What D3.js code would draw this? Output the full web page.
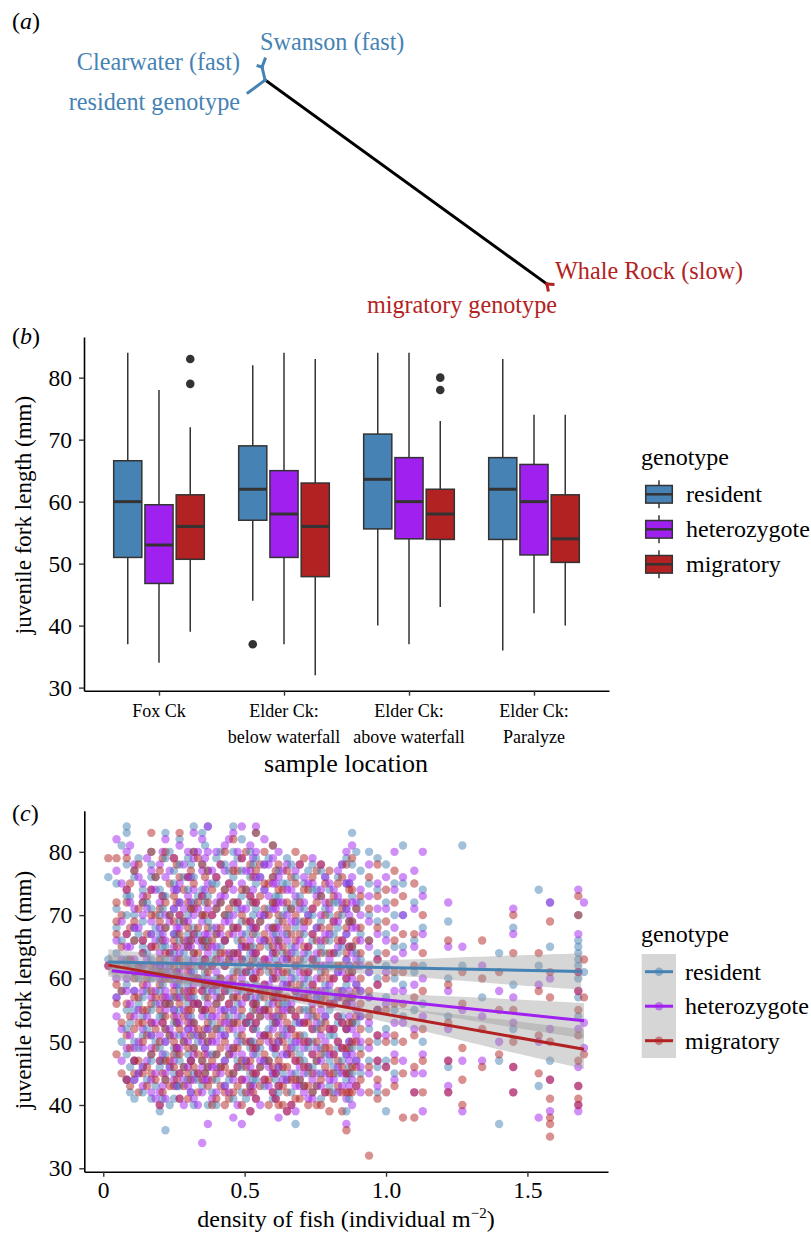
<!DOCTYPE html>
<html>
<head>
<meta charset="utf-8">
<script src="https://cdn.jsdelivr.net/npm/d3@7"></script>
<style>
  body { margin: 0; background: #fff; }
  svg { font-family: "Liberation Serif", "Times New Roman", serif; }
</style>
</head>
<body>
<svg id="fig" width="811" height="1238"></svg>
<script>
// ---------- data ----------
const genotypes = ["resident", "heterozygote", "migratory"];
const genoColors = ["#4682B4", "#A020F0", "#B22222"];

// panel (a): tree in arbitrary branch-length units
const treeNodes = {
  root: [5.6, 9.1], resTip: [0, 14.6], fast: [4.6, 3.5], clear: [3.3, 3.0],
  swan: [5.6, 0], slow: [98.0, 97.4], whale: [100, 97.6], migTip: [98.4, 100]
};
const blueEdges = [["root", "resTip"], ["root", "fast"], ["fast", "clear"], ["fast", "swan"]];
const blackEdges = [["root", "slow"]];
const redEdges = [["slow", "whale"], ["slow", "migTip"]];

// panel (b): [lower whisker, q1, median, q3, upper whisker]
const locations = [["Fox Ck"], ["Elder Ck:", "below waterfall"], ["Elder Ck:", "above waterfall"], ["Elder Ck:", "Paralyze"]];
const residentBox = [[37, 51, 60, 66.6, 84], [44, 57, 62, 69, 82], [40, 55.6, 63.6, 70.9, 84], [36, 53.9, 62, 67.1, 83]];
const heteroBox = [[34, 46.8, 53, 59.5, 78], [37, 51, 58, 65, 84], [37, 54, 60, 67.1, 84], [42, 51.4, 60, 66, 74]];
const migratoryBox = [[39, 50.7, 56, 61.1, 72], [32, 47.9, 56, 63, 83], [43, 53.9, 58, 62, 73], [40, 50.2, 54, 61.1, 74]];
const outliers = [[0, 2, 83], [0, 2, 79], [1, 0, 37], [2, 2, 80], [2, 2, 78]]; // [location, genotype, value]
const lengthTicks = [30, 40, 50, 60, 70, 80];

// panel (c): density columns and fork lengths per genotype in each column
const densityCols = [0.018, 0.047, 0.083, 0.11, 0.14, 0.17, 0.20, 0.22, 0.25, 0.27, 0.30, 0.32, 0.35, 0.37, 0.40, 0.43,
  0.46, 0.49, 0.52, 0.54, 0.57, 0.60, 0.62, 0.65, 0.68, 0.71, 0.74, 0.77, 0.80, 0.83, 0.86, 0.88, 0.91, 0.94, 0.97,
  1.00, 1.03, 1.06, 1.10, 1.13, 1.22, 1.27, 1.34, 1.40, 1.45, 1.54, 1.58, 1.68, 1.70];
const residentLen = ["76 63", "75 71 68 64 62 57", "84 83 78 73 70 63 59 55 52 48 44", "77 76 70 68 66 61 58 55 50 47 44 41",
  "74 72 69 65 62 57 54 51 46 42", "80 78 76 71 67 63 60 55 51 48 47 41", "74 70 67 66 62 58 54 49 46 39",
  "83 79 73 68 65 63 61 56 52 50 48 44 36", "77 75 71 67 64 60 57 55 53 49 45 41", "82 78 72 69 66 62 59 58 55 51 47 43",
  "79 74 70 67 65 63 59 56 52 48 44", "84 80 76 72 68 64 61 57 53 51 49 45 40", "83 78 74 70 66 63 60 59 55 51 47 43",
  "84 77 73 69 66 62 58 54 52 50 46 40", "79 75 71 67 64 60 58 56 52 48 44 40", "78 74 70 66 62 59 55 51 47 43",
  "84 80 76 72 68 64 61 57 55 53 49 45 41", "82 77 73 69 65 61 58 54 50 46 42", "80 76 72 68 64 61 57 53 49 45 43",
  "83 79 75 71 67 63 59 56 52 48 44", "78 74 70 66 62 58 55 51 47 43", "81 76 72 68 64 60 57 53 49 45 41",
  "77 73 69 66 62 58 54 50 46 42", "79 75 71 67 63 59 56 52 48 44", "76 72 68 64 60 57 53 49 45 37",
  "75 71 67 63 59 55 51 47 43", "78 74 70 66 62 58 54 50 46 42", "77 73 69 65 61 57 53 49 45 41",
  "74 70 66 62 58 55 51 47 43", "76 72 68 64 61 57 53 49 45", "79 75 71 67 63 59 56 52 48 44 39",
  "83 78 73 69 65 61 57 53 49 45", "77 72 67 63 58 54 49 45", "80 75 70 66 61 57 52 47", "79 74 69 64 60 55 50 46 42",
  "78 72 67 62 57 52 47 39", "75 70 65 60 55 50 45", "81 75 70 65 59 54", "72 66 61 55", "74 68 62 56 50",
  "69 60 54 46", "81 62", "57", "64 47 37", "68 59 52", "74 62 43", "72 65 47", "70 66 65 64 63 62 60 57 54", "61"];
const heteroLen = ["62", "82 77 66 60 57 54", "80 74 67 65 60 58 49 44", "78 71 68 63 61 58 54 49 47 44",
  "75 73 70 66 64 62 58 52 49 46 43", "77 74 69 67 65 61 57 53 51 49 44 42", "78 72 68 64 62 60 56 51 47 42 40",
  "82 76 70 66 62 58 57 55 50 45 41", "79 74 71 67 65 63 59 55 51 47 44", "81 75 72 70 68 64 61 57 53 49 45 41",
  "80 76 73 69 66 62 58 54 52 50 46 43", "83 79 74 70 67 63 59 56 52 48 44 41", "82 77 73 69 65 62 58 54 50 46 42 34",
  "84 80 75 71 67 64 60 56 52 48 44 37", "80 76 72 68 65 61 59 57 54 50 46 42", "81 77 73 69 66 62 58 55 53 51 47 43",
  "83 78 74 70 67 63 59 55 52 48 44 38", "84 79 75 71 67 65 63 60 56 52 48 44 37", "81 77 73 69 66 62 58 54 50 46 42 39",
  "84 80 76 72 68 64 61 57 53 49 45 41", "82 78 74 70 66 63 59 55 51 47 44", "79 75 71 67 64 60 56 52 49 45 42",
  "80 76 72 68 65 61 57 53 50 46 43 38", "78 74 70 66 63 59 55 51 48 44 39", "77 73 69 65 62 58 54 50 47 43 39",
  "76 72 68 64 60 57 53 49 45 42", "79 75 71 67 63 59 56 52 48 44 41", "78 74 70 66 62 58 55 51 47 43",
  "75 71 67 63 59 56 52 48 44", "77 73 69 65 61 57 54 50 46 42", "80 75 71 67 63 60 56 52 48 45 41 37",
  "81 76 72 68 64 60 56 52 48 44 40", "74 70 66 62 58 54 50 46 42", "78 73 69 65 61 57 53 49 45",
  "75 71 67 63 59 55 51 47 43", "76 71 66 61 56 51 46", "80 74 68 63 58 53 48 44", "76 70 64 58 53 47",
  "77 71 65 59 52 45 42", "80 73 67 60 54 48 45 39", "72 65 58 52 47 43 42", "65 55 47 39", "62 54 47", "58 50",
  "71 67 57 53 46 42", "59 50 38", "72 60 52 44 39", "74 67 61 58 52 46 43 40 39", "72 53 49"];
const migratoryLen = ["79 62", "79 72 69 67 59 56 48", "79 74 72 67 62 56 51 44", "77 69 66 60 57 52 47 45",
  "72 66 64 59 55 53 50 45", "83 80 74 70 65 62 58 56 53 48 45", "77 71 69 63 61 59 55 50 47 40",
  "80 72 68 64 60 56 54 52 47 44", "79 73 69 66 62 58 54 50 48 46 43", "83 76 70 67 63 60 56 52 48 45 41",
  "76 72 68 65 61 57 55 53 49 45 41", "80 75 71 67 64 60 58 56 53 49 46", "78 73 70 66 62 58 55 51 47 44",
  "77 72 68 65 61 57 53 50 46 43", "76 71 67 63 59 56 52 48 45 41", "80 74 70 66 64 62 58 54 50 46 42 40",
  "82 77 72 68 64 60 57 53 49 45 42", "79 74 70 66 63 59 55 51 47 44 40", "78 73 69 65 62 58 54 50 47 43 39",
  "83 77 72 68 64 60 56 55 53 49 45 41", "80 75 71 67 63 59 57 55 51 48 44", "81 76 72 68 65 61 57 54 50 46 42",
  "78 74 70 66 62 58 56 55 51 47 43 40", "77 72 68 64 61 57 53 49 46 42 39", "80 75 70 66 62 58 54 51 47 44 41",
  "79 74 69 65 61 57 53 50 46 43", "76 71 67 63 59 55 52 48 45 42", "78 73 68 64 60 56 52 48 44 40",
  "77 72 68 64 60 56 52 49 45 42 39", "75 70 66 62 58 54 50 47 43", "78 72 68 64 60 56 52 49 45 42 36",
  "79 74 69 65 61 57 53 50 46 42", "73 68 64 60 56 52 48 44", "76 71 66 62 58 54 50 46 42 32",
  "78 73 68 63 59 55 51 47 44 41", "74 69 64 60 55 50 46 42", "77 72 66 61 56 51 47 43", "73 67 61 56 50 45 38",
  "75 67 62 57 51 46 42 38", "70 64 58 52 47 42", "66 59 53 47 42", "61 56 49 44 40", "66 60 52 46", "61 55 48",
  "70 64 55 50 46 42", "64 58 51 45", "69 61 57 50 44 41 38 37 35", "73 70 61 58 55 51 47 43 41 40", "63 57 48"];

// second set of sampling columns lying between the first ones
const densityCols2 = [0.065, 0.095, 0.125, 0.155, 0.185, 0.21, 0.235, 0.26, 0.285, 0.31, 0.335, 0.36, 0.385, 0.415,
  0.445, 0.475, 0.505, 0.53, 0.555, 0.585, 0.61, 0.635, 0.665, 0.695, 0.725, 0.755, 0.785, 0.815, 0.845, 0.87, 0.895];
const residentLen2 = ["81 66 58 50", "73 62 53 46 42", "79 67 60 56 49 45", "72 64 58 52 44", "76 68 61 56 50 43",
  "71 65 59 54 47 41", "80 70 62 56 51 46 40", "74 67 61 53 48 43", "76 69 64 57 50 46", "78 71 66 60 54 47 42",
  "73 67 62 56 50 44", "81 72 65 61 57 49 45", "75 68 63 59 53 48 42", "80 72 65 60 57 52 46", "77 70 63 58 54 48 44",
  "79 71 66 62 56 51 47", "74 67 63 59 53 47 41", "78 70 65 60 55 50 44", "76 69 62 57 54 49 46", "79 71 65 61 56 52 47",
  "73 67 63 58 53 48 44", "75 70 64 60 56 51 45", "78 71 65 61 55 50 42", "73 69 62 58 53 48 44", "77 70 64 60 55 49 45",
  "74 68 63 57 52 47 43", "76 71 64 59 54 48", "72 67 62 57 51 46 42", "78 70 65 58 54 47", "75 69 62 57 50 46 41",
  "80 71 64 59 53 47"];
const heteroLen2 = ["75 69 63 52 47", "81 72 65 56 51", "76 68 62 55 50 45", "79 71 63 59 54 47", "74 66 62 58 53 45 41",
  "80 73 67 60 53 48 43", "77 69 64 61 57 52 46", "74 68 63 59 54 49 43", "78 71 65 60 55 51 44 40",
  "76 72 65 61 57 53 47 42", "80 71 66 60 56 51 45 40", "79 74 67 63 59 55 49 44", "77 70 65 62 58 54 50 46 41",
  "78 73 67 63 59 55 51 45", "82 75 69 64 60 56 53 49 42", "80 72 68 64 58 54 50 46 40", "77 71 65 61 57 53 47 44",
  "79 74 68 64 60 56 52 48 43", "76 70 66 62 58 55 51 47 40", "78 73 68 63 59 54 50 46 43", "75 71 66 62 58 54 49 45 41",
  "77 72 67 63 59 55 52 48 44", "74 69 64 60 56 52 49 45 40", "78 71 66 61 57 53 50 46 43", "75 70 65 61 58 54 50 46 41",
  "73 68 64 60 57 53 49 45", "76 72 67 62 58 54 50 45 42", "74 69 64 60 56 52 48 44", "78 72 66 61 58 53 49 45 43",
  "75 70 65 62 58 54 50 47 43", "72 68 63 59 55 51 47 43"];
const migratoryLen2 = ["70 65 58 53 45", "75 68 63 54 49 43", "78 71 62 57 53 47 42", "73 67 60 55 51 46 43",
  "76 70 65 57 52 49 44", "79 73 66 61 57 53 45 42", "75 70 64 60 56 51 47 43", "78 72 65 61 57 53 49 44",
  "74 69 66 62 58 54 50 46 43", "77 71 66 62 58 55 51 47 44", "79 72 68 64 60 56 52 48 45 42", "76 70 66 63 59 55 52 48 45",
  "74 70 66 62 59 55 51 47 44 40", "78 72 68 64 60 57 53 49 46 43", "75 71 67 63 59 56 52 48 45 41",
  "77 72 68 64 61 57 53 49 46 43", "80 74 69 65 61 57 53 50 46 42", "76 72 67 63 60 56 52 49 45 42",
  "78 73 69 65 61 58 54 50 46 43", "75 70 66 62 58 55 51 47 44 40", "77 72 68 64 60 57 53 49 45 41",
  "74 69 65 61 57 54 50 46 43 40", "76 71 67 63 59 55 52 48 44 40", "78 72 67 63 59 55 51 47 44 41",
  "74 69 65 61 57 53 50 46 43 40", "77 72 66 62 58 54 50 47 43 40", "75 70 66 61 57 53 49 46 42",
  "73 69 64 60 56 52 48 45 41", "76 71 66 62 57 53 49 46 42 39", "74 69 65 61 57 53 49 45 42", "71 66 62 58 54 50 46 43"];

// fitted lines (start/end) and confidence half-widths
const fitX = [[0.018, 1.69], [0.03, 1.70], [0.018, 1.70]];
const fitY = [[62.6, 61.1], [61.2, 53.3], [62.1, 48.8]];
const bandX = [0.02, 0.3, 0.55, 0.8, 1.1, 1.4, 1.7];
const bandHalf = [[2.0, 1.0, 0.6, 0.8, 1.4, 2.2, 2.9], [1.6, 0.8, 0.5, 0.7, 1.3, 2.1, 2.8], [1.8, 0.9, 0.6, 0.8, 1.5, 2.4, 3.1]];
const densityTicks = [0, 0.5, 1.0, 1.5];

// ---------- drawing ----------
const svg = d3.select("#fig");
const ink = "#333333";

function panelLabel(y, letter) {
  const t = svg.append("text").attr("x", 12).attr("y", y).attr("font-size", 24);
  t.append("tspan").text("(");
  t.append("tspan").attr("font-style", "italic").text(letter);
  t.append("tspan").text(")");
}

// ---- (a) tree ----
panelLabel(29, "a");
const tx = d3.scaleLinear().domain([0, 100]).range([248, 553]);
const ty = d3.scaleLinear().domain([0, 100]).range([59, 290]);
function drawEdges(edges, color) {
  svg.append("g").selectAll("line").data(edges).enter().append("line")
    .attr("x1", e => tx(treeNodes[e[0]][0])).attr("y1", e => ty(treeNodes[e[0]][1]))
    .attr("x2", e => tx(treeNodes[e[1]][0])).attr("y2", e => ty(treeNodes[e[1]][1]))
    .attr("stroke", color).attr("stroke-width", 3).attr("stroke-linecap", "square");
}
drawEdges(blackEdges, "#000");
drawEdges(blueEdges, genoColors[0]);
drawEdges(redEdges, genoColors[2]);

const treeText = [
  ["Swanson (fast)", 260, 50, "start", genoColors[0]],
  ["Clearwater (fast)", 240, 70, "end", genoColors[0]],
  ["resident genotype", 240, 110, "end", genoColors[0]],
  ["Whale Rock (slow)", 555, 279, "start", genoColors[2]],
  ["migratory genotype", 557, 313, "end", genoColors[2]]
];
svg.append("g").selectAll("text").data(treeText).enter().append("text")
  .attr("x", d => d[1]).attr("y", d => d[2]).attr("text-anchor", d => d[3])
  .attr("fill", d => d[4]).attr("font-size", 24.2).text(d => d[0]);

// ---- (b) boxplots ----
panelLabel(344, "b");
const xB = d3.scaleLinear().domain([0.4, 4.6]).range([84, 609]);
const yB = d3.scaleLinear().domain([29.5, 86.56]).range([690.7, 337]);
const boxSets = [residentBox, heteroBox, migratoryBox];
const boxW = xB(1.225) - xB(1);

function styleAxis(g) {
  g.select(".domain").attr("stroke", "#000").attr("stroke-width", 1.6);
  g.selectAll(".tick line").attr("stroke", ink).attr("stroke-width", 1.4);
  g.selectAll(".tick text").attr("fill", "#000").attr("font-family", "Liberation Serif");
}

const gB = svg.append("g");
boxSets.forEach((set, g) => {
  set.forEach((s, i) => {
    const cx = xB(i + 1 + (g - 1) * 0.25);
    gB.append("line").attr("x1", cx).attr("x2", cx).attr("y1", yB(s[0])).attr("y2", yB(s[1]))
      .attr("stroke", ink).attr("stroke-width", 1.5);
    gB.append("line").attr("x1", cx).attr("x2", cx).attr("y1", yB(s[3])).attr("y2", yB(s[4]))
      .attr("stroke", ink).attr("stroke-width", 1.5);
    gB.append("rect").attr("x", cx - boxW / 2).attr("width", boxW)
      .attr("y", yB(s[3])).attr("height", yB(s[1]) - yB(s[3]))
      .attr("fill", genoColors[g]).attr("stroke", ink).attr("stroke-width", 1.5);
    gB.append("line").attr("x1", cx - boxW / 2).attr("x2", cx + boxW / 2)
      .attr("y1", yB(s[2])).attr("y2", yB(s[2])).attr("stroke", ink).attr("stroke-width", 3);
  });
});
gB.selectAll("circle").data(outliers).enter().append("circle")
  .attr("cx", d => xB(d[0] + 1 + (d[1] - 1) * 0.25)).attr("cy", d => yB(d[2]))
  .attr("r", 4.3).attr("fill", ink);

svg.append("g").attr("transform", "translate(84,0)")
  .call(d3.axisLeft(yB).tickValues(lengthTicks).tickSize(5).tickPadding(7).tickSizeOuter(0))
  .call(styleAxis).selectAll(".tick text").attr("font-size", 23.5);
svg.append("g").attr("transform", "translate(0,690.7)")
  .call(d3.axisBottom(xB).tickValues([1, 2, 3, 4]).tickSize(5).tickFormat("").tickSizeOuter(0))
  .call(styleAxis);
const locLabels = svg.append("g").selectAll("text").data(locations).enter().append("text")
  .attr("x", (d, i) => xB(i + 1)).attr("y", 717).attr("text-anchor", "middle").attr("font-size", 18);
locLabels.selectAll("tspan").data(d => d).enter().append("tspan")
  .attr("x", function () { return d3.select(this.parentNode).attr("x"); })
  .attr("dy", (d, i) => i === 0 ? 0 : 26).text(d => d);
svg.append("text").attr("x", 346).attr("y", 772).attr("text-anchor", "middle")
  .attr("font-size", 26).text("sample location");
svg.append("text").attr("transform", "translate(31,515) rotate(-90)").attr("text-anchor", "middle")
  .attr("font-size", 23).text("juvenile fork length (mm)");

// legend (b)
svg.append("text").attr("x", 641).attr("y", 465).attr("font-size", 24).text("genotype");
const legB = svg.append("g").selectAll("g").data(genotypes).enter().append("g")
  .attr("transform", (d, i) => `translate(659,${494.3 + i * 35})`);
legB.append("line").attr("y1", -14).attr("y2", 14).attr("stroke", ink).attr("stroke-width", 1.5);
legB.append("rect").attr("x", -13.3).attr("y", -8.8).attr("width", 26.6).attr("height", 17.6)
  .attr("fill", (d, i) => genoColors[i]).attr("stroke", ink).attr("stroke-width", 1.5);
legB.append("line").attr("x1", -13.3).attr("x2", 13.3).attr("stroke", ink).attr("stroke-width", 2.5);
legB.append("text").attr("x", 27).attr("y", 8).attr("font-size", 24).text(d => d);

// ---- (c) scatter with fits ----
panelLabel(821, "c");
const xC = d3.scaleLinear().domain([-0.067, 1.785]).range([84.3, 608]);
const yC = d3.scaleLinear().domain([29.46, 86.5]).range([1171.7, 810.7]);
const pts = [];
function addColumns(cols, sets) {
  cols.forEach((d, c) => {
    sets.forEach((set, g) => {
      set[c].split(" ").forEach(v => pts.push({ d: d, v: +v, g: g }));
    });
  });
}
addColumns(densityCols, [residentLen, heteroLen, migratoryLen]);
addColumns(densityCols2, [residentLen2, heteroLen2, migratoryLen2]);
pts.sort((a, b) => a.d - b.d);
svg.append("g").selectAll("circle").data(pts).enter().append("circle")
  .attr("cx", p => xC(p.d)).attr("cy", p => yC(p.v)).attr("r", 4.2)
  .attr("fill", p => genoColors[p.g]).attr("fill-opacity", 0.5);

const fitScales = fitX.map((fx, g) => d3.scaleLinear().domain(fx).range(fitY[g]));
const halfScales = bandHalf.map(h => d3.scaleLinear().domain(bandX).range(h));
const gFit = svg.append("g");
fitX.forEach((fx, g) => {
  const xs = d3.range(fx[0], fx[1] + 1e-9, (fx[1] - fx[0]) / 40);
  const area = d3.area().x(x => xC(x))
    .y0(x => yC(fitScales[g](x) - halfScales[g](x)))
    .y1(x => yC(fitScales[g](x) + halfScales[g](x)))
    .curve(d3.curveMonotoneX);
  gFit.append("path").attr("d", area(xs)).attr("fill", "#999").attr("fill-opacity", 0.4);
});
fitX.forEach((fx, g) => {
  const line = d3.line().x(x => xC(x)).y(x => yC(fitScales[g](x)));
  gFit.append("path").attr("d", line(fx)).attr("fill", "none")
    .attr("stroke", genoColors[g]).attr("stroke-width", 3);
});

svg.append("g").attr("transform", "translate(84.3,0)")
  .call(d3.axisLeft(yC).tickValues(lengthTicks).tickSize(5).tickPadding(7).tickSizeOuter(0))
  .call(styleAxis).selectAll(".tick text").attr("font-size", 23.5);
svg.append("g").attr("transform", "translate(0,1171.7)")
  .call(d3.axisBottom(xC).tickValues(densityTicks).tickSize(5).tickPadding(5).tickSizeOuter(0)
    .tickFormat(d => d === 0 ? "0" : d3.format(".1f")(d)))
  .call(styleAxis).selectAll(".tick text").attr("font-size", 23.5);
const xt = svg.append("text").attr("x", 346).attr("y", 1227).attr("text-anchor", "middle").attr("font-size", 24);
xt.append("tspan").text("density of fish (individual m");
xt.append("tspan").attr("dy", -9).attr("font-size", 15).text("\u22122");
xt.append("tspan").attr("dy", 9).text(")");
svg.append("text").attr("transform", "translate(31,990) rotate(-90)").attr("text-anchor", "middle")
  .attr("font-size", 23).text("juvenile fork length (mm)");

// legend (c)
svg.append("text").attr("x", 641).attr("y", 941.7).attr("font-size", 24).text("genotype");
svg.append("rect").attr("x", 641.7).attr("y", 954).attr("width", 34.3).attr("height", 104).attr("fill", "#D6D6D6");
const legC = svg.append("g").selectAll("g").data(genotypes).enter().append("g")
  .attr("transform", (d, i) => `translate(659,${971.7 + i * 34.5})`);
legC.append("line").attr("x1", -14).attr("x2", 14).attr("stroke", (d, i) => genoColors[i]).attr("stroke-width", 3);
legC.append("circle").attr("r", 4.2).attr("fill", (d, i) => genoColors[i]).attr("fill-opacity", 0.5);
legC.append("text").attr("x", 26).attr("y", 8).attr("font-size", 24).text(d => d);
</script>
</body>
</html>
